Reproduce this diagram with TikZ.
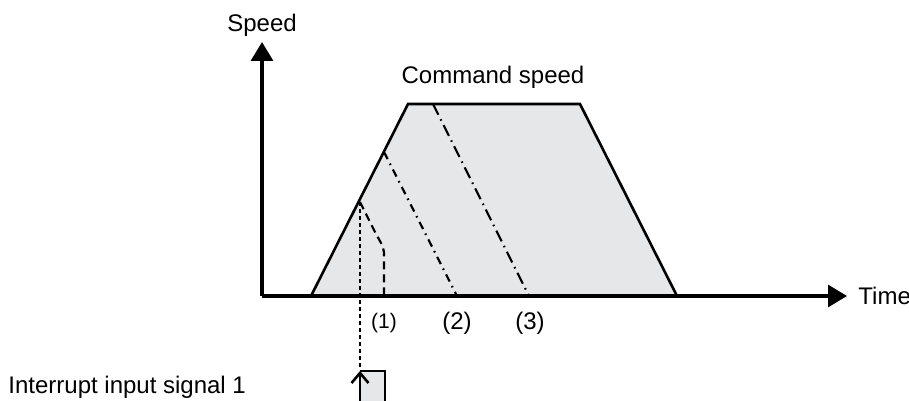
\documentclass[tikz,border=0pt]{standalone}
\usepackage{fontspec}
\setmainfont{Liberation Sans}
\usetikzlibrary{arrows.meta}
\definecolor{areagray}{HTML}{E6E7E9}
\tikzset{
  axis/.style={line width=1.6pt, -{Triangle[length=9.5pt,width=11pt]}},
  profile/.style={line width=1.3pt, line join=miter},
  stopone/.style={line width=1.1pt, dash pattern=on 4pt off 2.5pt},
  stoptwo/.style={line width=1.1pt, dash pattern=on 4pt off 2.5pt on 0.8pt off 2.5pt},
  stopthree/.style={line width=1.1pt, dash pattern=on 6pt off 2.5pt on 0.8pt off 2.5pt},
  label/.style={font=\fontsize{12}{14}\selectfont, inner sep=0pt}
}
\begin{document}
\begin{tikzpicture}[x=0.5pt, y=-0.5pt]
        \useasboundingbox (0,0) rectangle (909,401);

        % Key points
        \coordinate (origin) at (262,296);
        \coordinate (up) at (262,42);
        \coordinate (right) at (847,296);
        \coordinate (start) at (311,296);
        \coordinate (topleft) at (408,104);
        \coordinate (topright) at (580,104);
        \coordinate (finish) at (677,296);
        \coordinate (int1) at (360,202);
        \coordinate (int2) at (384,152);
        \coordinate (int3) at (433,104);

        % Command speed profile
        \fill[areagray] (start) -- (topleft) -- (topright) -- (finish) -- cycle;
        \draw[profile] (start) -- (topleft) -- (topright) -- (finish);

        % Stopping curves
        \draw[stopone] (int1) -- (376,234) .. controls (384,248) .. (384,258) -- (384,296);
        \draw[stoptwo] (int2) -- (457,296);
        \draw[stopthree] (int3) -- (529,296);

        % Axes
        \draw[axis] (origin) -- (up);
        \draw[axis] (origin) -- (right);
        \node[label] (speed) at (262,25) {Speed};
        \node[label, anchor=west] (time) at (858,296) {Time};
        \node[label] (cmd) at (493,77) {Command speed};

        % Stop points
        \node[label, font=\fontsize{10.5}{12}\selectfont] (p1) at (384,323) {(1)};
        \node[label] (p2) at (457,323) {(2)};
        \node[label] (p3) at (530,323) {(3)};

        % Interrupt input signal
        \node[label, anchor=west] (sig) at (8,387) {Interrupt input signal 1};
        \fill[areagray] (360,371) rectangle (385,401);
        \draw[line width=1.3pt] (360,371) -- (385,371) -- (385,401);
        \draw[line width=1.3pt, -{Straight Barb[length=5pt,width=8.5pt]}] (360,401) -- (360,371);
        \draw[line width=0.8pt, dash pattern=on 2pt off 1.5pt] (int1) -- (360,367);
\end{tikzpicture}
\end{document}
